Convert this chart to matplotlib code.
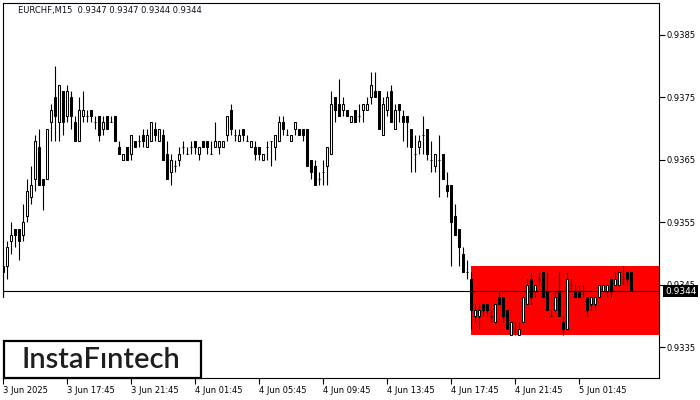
import pandas as pd
import matplotlib.pyplot as plt
import matplotlib.transforms as mtransforms
from matplotlib.patches import Rectangle

# EURCHF M15 candles (one bar every 15 minutes, from 3 Jun 13:45)
opens = [
    0.9348, 0.9348, 0.9352, 0.9354, 0.9354, 0.9353, 0.9356, 0.9359, 0.9362, 0.9367, 0.9362, 0.9362, 0.9371, 0.9375, 0.9371, 0.9376,
    0.9372, 0.9375, 0.9371, 0.9368, 0.9372, 0.9372, 0.9373, 0.9371, 0.9372, 0.9370, 0.9372, 0.9371, 0.9372, 0.9367, 0.9365, 0.9367,
    0.9366, 0.9368, 0.9368, 0.9369, 0.9367, 0.9368, 0.9370, 0.9368, 0.9369, 0.9366, 0.9363, 0.9364, 0.9365, 0.9367, 0.9366, 0.9367,
    0.9368, 0.9366, 0.9368, 0.9368, 0.9366, 0.9367, 0.9367, 0.9367, 0.9369, 0.9373, 0.9369, 0.9368, 0.9370, 0.9368, 0.9367, 0.9367,
    0.9367, 0.9365, 0.9367, 0.9368, 0.9367, 0.9368, 0.9371, 0.9369, 0.9368, 0.9370, 0.9370, 0.9370, 0.9370, 0.9365, 0.9364, 0.9362,
    0.9363, 0.9364, 0.9366, 0.9375, 0.9374, 0.9373, 0.9373, 0.9371, 0.9373, 0.9372, 0.9373, 0.9373, 0.9375, 0.9376, 0.9376, 0.9369,
    0.9373, 0.9376, 0.9370, 0.9374, 0.9372, 0.9372, 0.9370, 0.9366, 0.9367, 0.9369, 0.9370, 0.9365, 0.9364, 0.9365, 0.9366, 0.9361,
    0.9361, 0.9356, 0.9354, 0.9350, 0.9347, 0.9346, 0.9340, 0.9340, 0.9342, 0.9342, 0.9340, 0.9339, 0.9343, 0.9343, 0.9341, 0.9337,
    0.9338, 0.9337, 0.9339, 0.9342, 0.9346, 0.9344, 0.9346, 0.9347, 0.9344, 0.9340, 0.9341, 0.9344, 0.9339, 0.9338, 0.9345, 0.9344,
    0.9344, 0.9344, 0.9343, 0.9342, 0.9342, 0.9343, 0.9344, 0.9344, 0.9346, 0.9345, 0.9345, 0.9346, 0.9347, 0.9347,
]
highs = [
    0.9349, 0.9352, 0.9355, 0.9354, 0.9354, 0.9358, 0.9362, 0.9364, 0.9369, 0.9370, 0.9362, 0.9370, 0.9374, 0.9380, 0.9377, 0.9376,
    0.9377, 0.9376, 0.9372, 0.9375, 0.9376, 0.9373, 0.9373, 0.9372, 0.9372, 0.9372, 0.9372, 0.9372, 0.9372, 0.9368, 0.9366, 0.9367,
    0.9369, 0.9368, 0.9369, 0.9370, 0.9370, 0.9371, 0.9371, 0.9370, 0.9370, 0.9368, 0.9366, 0.9365, 0.9367, 0.9368, 0.9367, 0.9368,
    0.9368, 0.9367, 0.9368, 0.9368, 0.9368, 0.9371, 0.9368, 0.9368, 0.9372, 0.9374, 0.9370, 0.9370, 0.9370, 0.9369, 0.9368, 0.9368,
    0.9367, 0.9366, 0.9368, 0.9368, 0.9369, 0.9372, 0.9372, 0.9370, 0.9369, 0.9371, 0.9370, 0.9370, 0.9370, 0.9365, 0.9365, 0.9363,
    0.9365, 0.9367, 0.9376, 0.9375, 0.9378, 0.9375, 0.9373, 0.9372, 0.9373, 0.9374, 0.9374, 0.9375, 0.9379, 0.9379, 0.9376, 0.9375,
    0.9376, 0.9377, 0.9374, 0.9374, 0.9373, 0.9372, 0.9370, 0.9369, 0.9369, 0.9372, 0.9370, 0.9368, 0.9366, 0.9369, 0.9366, 0.9363,
    0.9361, 0.9358, 0.9354, 0.9351, 0.9349, 0.9347, 0.9342, 0.9342, 0.9342, 0.9342, 0.9341, 0.9342, 0.9344, 0.9343, 0.9341, 0.9339,
    0.9339, 0.9339, 0.9343, 0.9346, 0.9347, 0.9345, 0.9347, 0.9347, 0.9347, 0.9341, 0.9344, 0.9347, 0.9340, 0.9347, 0.9346, 0.9345,
    0.9345, 0.9345, 0.9343, 0.9343, 0.9343, 0.9345, 0.9345, 0.9345, 0.9346, 0.9347, 0.9347, 0.9348, 0.9347, 0.9347,
]
lows = [
    0.9343, 0.9346, 0.9350, 0.9351, 0.9349, 0.9352, 0.9355, 0.9358, 0.9360, 0.9361, 0.9357, 0.9362, 0.9368, 0.9368, 0.9368, 0.9369,
    0.9371, 0.9370, 0.9368, 0.9368, 0.9371, 0.9371, 0.9371, 0.9370, 0.9368, 0.9369, 0.9370, 0.9371, 0.9368, 0.9366, 0.9365, 0.9365,
    0.9365, 0.9367, 0.9367, 0.9367, 0.9367, 0.9368, 0.9368, 0.9368, 0.9365, 0.9362, 0.9361, 0.9363, 0.9364, 0.9366, 0.9366, 0.9366,
    0.9366, 0.9365, 0.9367, 0.9366, 0.9366, 0.9367, 0.9366, 0.9367, 0.9368, 0.9369, 0.9368, 0.9368, 0.9368, 0.9368, 0.9367, 0.9365,
    0.9365, 0.9365, 0.9365, 0.9364, 0.9365, 0.9368, 0.9369, 0.9369, 0.9368, 0.9369, 0.9369, 0.9368, 0.9364, 0.9362, 0.9361, 0.9361,
    0.9361, 0.9361, 0.9366, 0.9371, 0.9372, 0.9372, 0.9372, 0.9371, 0.9371, 0.9371, 0.9371, 0.9373, 0.9374, 0.9375, 0.9370, 0.9369,
    0.9372, 0.9371, 0.9370, 0.9371, 0.9368, 0.9367, 0.9363, 0.9363, 0.9366, 0.9366, 0.9365, 0.9363, 0.9363, 0.9359, 0.9362, 0.9359,
    0.9348, 0.9353, 0.9348, 0.9347, 0.9346, 0.9338, 0.9339, 0.9338, 0.9340, 0.9340, 0.9339, 0.9339, 0.9342, 0.9339, 0.9338, 0.9337,
    0.9337, 0.9337, 0.9339, 0.9342, 0.9342, 0.9343, 0.9345, 0.9343, 0.9341, 0.9340, 0.9341, 0.9340, 0.9337, 0.9338, 0.9344, 0.9343,
    0.9343, 0.9343, 0.9340, 0.9341, 0.9341, 0.9343, 0.9344, 0.9343, 0.9343, 0.9345, 0.9345, 0.9345, 0.9345, 0.9344,
]
closes = [
    0.9347, 0.9351, 0.9353, 0.9353, 0.9352, 0.9355, 0.9360, 0.9361, 0.9368, 0.9361, 0.9361, 0.9370, 0.9373, 0.9372, 0.9377, 0.9371,
    0.9376, 0.9372, 0.9368, 0.9373, 0.9373, 0.9372, 0.9372, 0.9371, 0.9369, 0.9371, 0.9370, 0.9371, 0.9368, 0.9366, 0.9366, 0.9365,
    0.9369, 0.9367, 0.9368, 0.9368, 0.9369, 0.9371, 0.9369, 0.9370, 0.9365, 0.9362, 0.9365, 0.9364, 0.9366, 0.9367, 0.9366, 0.9367,
    0.9367, 0.9367, 0.9367, 0.9367, 0.9366, 0.9368, 0.9368, 0.9368, 0.9372, 0.9370, 0.9369, 0.9369, 0.9369, 0.9368, 0.9368, 0.9366,
    0.9366, 0.9366, 0.9367, 0.9368, 0.9369, 0.9371, 0.9370, 0.9369, 0.9369, 0.9371, 0.9369, 0.9369, 0.9364, 0.9363, 0.9361, 0.9362,
    0.9363, 0.9367, 0.9374, 0.9373, 0.9372, 0.9374, 0.9372, 0.9372, 0.9371, 0.9372, 0.9374, 0.9374, 0.9377, 0.9375, 0.9370, 0.9374,
    0.9375, 0.9371, 0.9373, 0.9373, 0.9371, 0.9371, 0.9367, 0.9366, 0.9368, 0.9369, 0.9366, 0.9365, 0.9366, 0.9365, 0.9362, 0.9360,
    0.9355, 0.9353, 0.9351, 0.9347, 0.9347, 0.9341, 0.9341, 0.9341, 0.9341, 0.9341, 0.9340, 0.9342, 0.9342, 0.9340, 0.9338, 0.9339,
    0.9338, 0.9338, 0.9343, 0.9345, 0.9343, 0.9345, 0.9346, 0.9343, 0.9341, 0.9340, 0.9343, 0.9340, 0.9338, 0.9346, 0.9345, 0.9343,
    0.9343, 0.9344, 0.9341, 0.9343, 0.9343, 0.9345, 0.9345, 0.9345, 0.9344, 0.9346, 0.9347, 0.9346, 0.9346, 0.9344,
]

time_labels = ['3 Jun 2025', '3 Jun 17:45', '3 Jun 21:45', '4 Jun 01:45', '4 Jun 05:45',
               '4 Jun 09:45', '4 Jun 13:45', '4 Jun 17:45', '4 Jun 21:45', '5 Jun 01:45']
time_label_bars = [0, 16, 32, 48, 64, 80, 96, 112, 128, 144]
price_ticks = [0.9335, 0.9345, 0.9355, 0.9365, 0.9375, 0.9385]

# rectangle (flat range) pattern
zone_start = 117
zone_low = 0.9337
zone_high = 0.9348

df = pd.DataFrame({'Open': opens, 'High': highs, 'Low': lows, 'Close': closes})
df['Bar'] = range(len(df))
up = df[df['Close'] >= df['Open']]
down = df[df['Close'] < df['Open']]
last = df.iloc[-1]

fig = plt.figure(figsize=(7, 4), dpi=100)
ax = fig.add_axes([3/700, 22/400, 656/700, 375/400])
x_max = 163.9
ax.set_xlim(-0.1, x_max)
ax.set_ylim(0.93301, 0.93901)

ax.add_patch(Rectangle((zone_start, zone_low), x_max - zone_start, zone_high - zone_low,
                       facecolor='#ff0000', edgecolor='none', zorder=1))
ax.axhline(last['Close'], color='black', lw=0.8, zorder=2)

ax.vlines(df['Bar'], df['Low'], df['High'], color='black', lw=0.8, zorder=3)
ax.bar(up['Bar'], up['Close'] - up['Open'], bottom=up['Open'], width=0.5,
       facecolor='white', edgecolor='black', lw=0.75, zorder=4)
ax.bar(down['Bar'], down['Open'] - down['Close'], bottom=down['Close'], width=0.5,
       facecolor='black', edgecolor='black', lw=0.75, zorder=4)

ax.yaxis.tick_right()
ax.set_yticks(price_ticks)
ax.set_yticklabels(['{:.4f}'.format(p) for p in price_ticks])
ax.set_xticks(time_label_bars)
ax.set_xticklabels(time_labels, ha='left')
ax.tick_params(axis='both', direction='out', length=4, width=0.8, labelsize=6, pad=1.5, colors='black')
for axis in ['top', 'bottom', 'left', 'right']:
    ax.spines[axis].set_linewidth(0.8)

# current price tag on the price scale
tag_tr = mtransforms.blended_transform_factory(ax.transAxes, ax.transData)
ax.text(1 + 6/656, last['Close'], '{:.4f}'.format(last['Close']), transform=tag_tr,
        ha='left', va='center', color='white', fontsize=6.5, clip_on=False, zorder=10,
        bbox=dict(facecolor='black', edgecolor='none', pad=1.2))

ax.text(15/656, 1 - 8/375,
        'EURCHF,M15  {:.4f} {:.4f} {:.4f} {:.4f}'.format(last['Open'], last['High'], last['Low'], last['Close']),
        transform=ax.transAxes, ha='left', va='center', fontsize=6, color='#101020')

# watermark box
fig.patches.append(Rectangle((0, 22/400), 204/700, 80/400, transform=fig.transFigure,
                             facecolor='white', edgecolor='none', zorder=5))
fig.patches.append(Rectangle((3.5/700, 22.5/400), 197.5/700, 37/400, transform=fig.transFigure,
                             fill=False, edgecolor='black', lw=1.6, zorder=6))
fig.text(101/700, 40.5/400, 'InstaF\u0131ntech', ha='center', va='center', fontsize=21,
         family='Lato', fontweight='semibold', color='#1e1e1e', zorder=7)

plt.savefig('out.png', dpi=100)
